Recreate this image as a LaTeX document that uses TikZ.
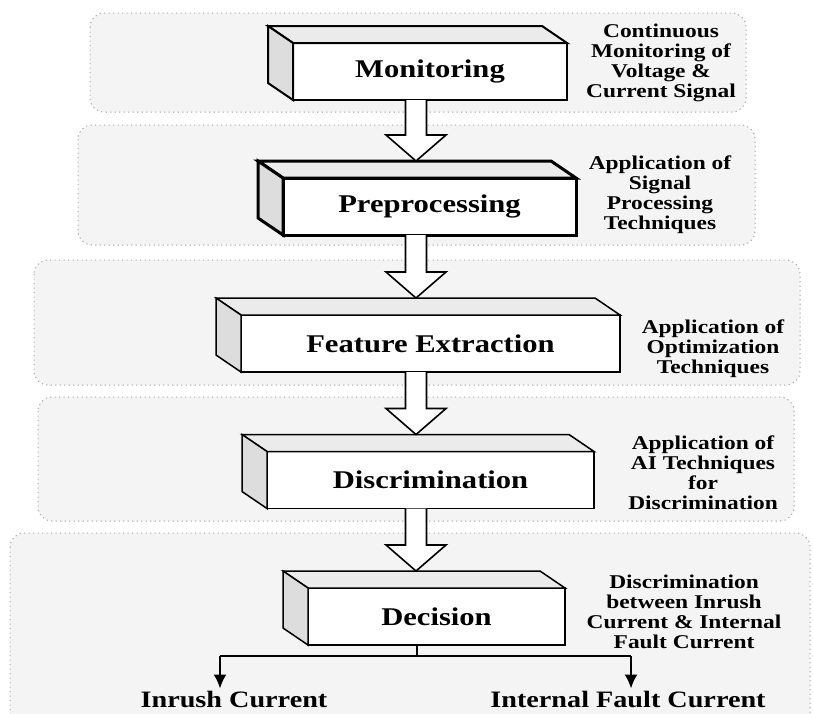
\documentclass[tikz,border=0pt]{standalone}
\usepackage{fontspec}
\setmainfont{Liberation Serif}[FakeStretch=1.2]
\usepackage{xcolor}
\usetikzlibrary{calc,arrows.meta}

\definecolor{panelgray}{HTML}{F4F4F4}
\definecolor{dotgray}{HTML}{A8A8A8}
\definecolor{topgray}{HTML}{EBEBEB}
\definecolor{sidegray}{HTML}{DDDDDD}

\tikzset{
  panel/.style={draw=dotgray, fill=panelgray, line width=1pt, dash pattern=on 1.2pt off 3.3pt, rounded corners=14pt},
  front/.style={draw, fill=white, line width=1.5pt, outer sep=0pt, minimum height=57pt, font=\fontsize{25.5}{28}\selectfont\bfseries},
  topface/.style={fill=topgray},
  sideface/.style={fill=sidegray},
  note/.style={align=center, font=\fontsize{19.5}{20}\selectfont\bfseries},
  outcome/.style={inner sep=1pt, font=\fontsize{23.5}{25}\selectfont\bfseries},
  bigarrow/.style={draw, fill=white, line width=1.6pt},
  branch/.style={line width=2pt, -{Latex[length=14pt,width=13pt]}}
}

\newcommand{\boxfaces}[2][1.5pt]{%
  \filldraw[topface, line width=#1] (#2.north west) -- ++(-25,-17) -- ($(#2.north east)+(-25,-17)$) -- (#2.north east) -- cycle;
  \filldraw[sideface, line width=#1] (#2.north west) -- ++(-25,-17) -- ($(#2.south west)+(-25,-17)$) -- (#2.south west) -- cycle;
}
\newcommand{\hollowarrow}[2]{%
  \draw[bigarrow] ($(#1.south -| axis)+(-10.5,0)$) -- ($(#2.north -| axis)+(-10.5,-43)$) -- ($(#2.north -| axis)+(-30,-43)$) -- ($(#2.north -| axis)+(0,-17)$) -- ($(#2.north -| axis)+(30,-43)$) -- ($(#2.north -| axis)+(10.5,-43)$) -- ($(#1.south -| axis)+(10.5,0)$);
}

\begin{document}
\begin{tikzpicture}[x=1pt,y=-1pt]
    \useasboundingbox (0,0) rectangle (813,713);
    \clip (0,0) rectangle (813,713);

    \draw[panel] (90,13) rectangle (746,112);
    \draw[panel] (78,125) rectangle (755,245);
    \draw[panel] (34,260) rectangle (800,385);
    \draw[panel] (38,397) rectangle (794,521);
    \draw[panel] (10,533) rectangle (810,740);

    \coordinate (axis) at (416,0);

    \node[front, line width=2pt, minimum width=274pt] (mon) at (430,71.5) {Monitoring};
    \node[front, line width=3pt, minimum width=293pt] (pre) at (429.5,206.5) {Preprocessing};
    \node[front, minimum width=379pt] (fe)  at (430.5,343.5) {Feature Extraction};
    \node[front, minimum width=327pt] (dis) at (430.5,480) {Discrimination};
    \node[front, minimum width=257pt] (dec) at (436.5,616.5) {Decision};

    \boxfaces[2pt]{mon}
    \boxfaces[3pt]{pre}
    \boxfaces{fe}
    \boxfaces{dis}
    \boxfaces{dec}

    \hollowarrow{mon}{pre}
    \hollowarrow{pre}{fe}
    \hollowarrow{fe}{dis}
    \hollowarrow{dis}{dec}

    \node[note] (t1) at (661,63)  {Continuous\\Monitoring of\\Voltage \&\\Current Signal};
    \node[note] (t2) at (660,195) {Application of\\Signal\\Processing\\Techniques};
    \node[note] (t3) at (713,349) {Application of\\Optimization\\Techniques};
    \node[note] (t4) at (703,473) {Application of\\AI Techniques\\for\\Discrimination};
    \node[note] (t5) at (684,612) {Discrimination\\between Inrush\\Current \& Internal\\Fault Current};

    \node[outcome] (inrush) at (234,699) {Inrush Current};
    \node[outcome] (fault)  at (628,699) {Internal Fault Current};

    \coordinate (split) at (417,656);
    \coordinate (lft) at (220,656);
    \coordinate (rgt) at (631,656);
    \draw[line width=2pt] (dec.south -| split) -- (split);
    \draw[line width=2pt] (lft) -- (rgt);
    \draw[branch] (lft) -- ($(lft |- inrush.north)+(0,-1)$);
    \draw[branch] (rgt) -- ($(rgt |- fault.north)+(0,-1)$);
\end{tikzpicture}
\end{document}
